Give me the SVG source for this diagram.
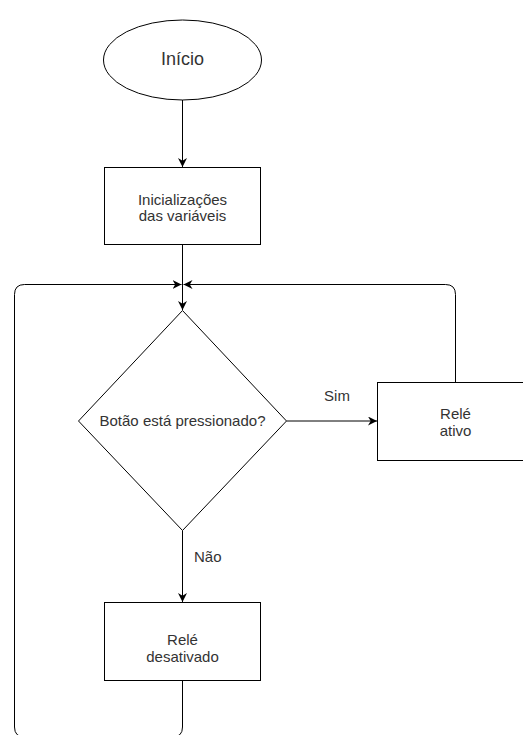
<svg xmlns="http://www.w3.org/2000/svg" width="523" height="735" viewBox="0 0 523 735">
<style>
.shape{fill:#ffffff;stroke:#000000;stroke-width:1}
.edge{fill:none;stroke:#000000;stroke-width:1}
.txt{font-family:"Liberation Sans",Arial,sans-serif;font-size:15px;fill:#333333;text-anchor:middle}
.big{font-size:18px}
.lbl{text-anchor:start}
</style>
<defs>
<marker id="arr" markerUnits="userSpaceOnUse" viewBox="0 0 10 10" refX="10" refY="5" markerWidth="9" markerHeight="9" orient="auto">
<path d="M0,0 L10,5 L0,10 L3,5 Z" fill="#000000"/>
</marker>
</defs>
<g id="connectors">
<path class="edge" d="M182.5,100 L182.5,167" marker-end="url(#arr)"/>
<path class="edge" d="M182.5,244.5 L182.5,310" marker-end="url(#arr)"/>
<path class="edge" d="M286.5,421 L377,421" marker-end="url(#arr)"/>
<path class="edge" d="M182.5,530.5 L182.5,602" marker-end="url(#arr)"/>
<path class="edge" d="M455.5,382.5 L455.5,294.5 Q455.5,284.5 445.5,284.5 L183.5,284.5" marker-end="url(#arr)"/>
<path class="edge" d="M182.5,680.5 L182.5,727 Q182.5,737 172.5,737 L24.5,737 Q14.5,737 14.5,727 L14.5,294.5 Q14.5,284.5 24.5,284.5 L181.5,284.5" marker-end="url(#arr)"/>
<text class="txt" x="337" y="401">Sim</text>
<text class="txt lbl" x="194" y="562">Não</text>
</g>
<g id="inicio">
<ellipse class="shape" cx="182.5" cy="60" rx="79" ry="40"/>
<text class="txt big" x="182.5" y="65">Início</text>
</g>
<g id="inicializacoes">
<rect class="shape" x="104.5" y="167.5" width="156" height="77"/>
<text class="txt" x="182.5" y="205">Inicializações</text>
<text class="txt" x="182.5" y="221">das variáveis</text>
</g>
<g id="decisao">
<path class="shape" d="M182.5,310.5 L286.5,421 L182.5,530.5 L78.5,421 Z"/>
<text class="txt" x="182.5" y="426">Botão está pressionado?</text>
</g>
<g id="rele-ativo">
<rect class="shape" x="377.5" y="382.5" width="156" height="78"/>
<text class="txt" x="455.5" y="419">Relé</text>
<text class="txt" x="455.5" y="436">ativo</text>
</g>
<g id="rele-desativado">
<rect class="shape" x="104.5" y="602.5" width="156" height="78"/>
<text class="txt" x="182.5" y="645">Relé</text>
<text class="txt" x="182.5" y="662">desativado</text>
</g>
</svg>
